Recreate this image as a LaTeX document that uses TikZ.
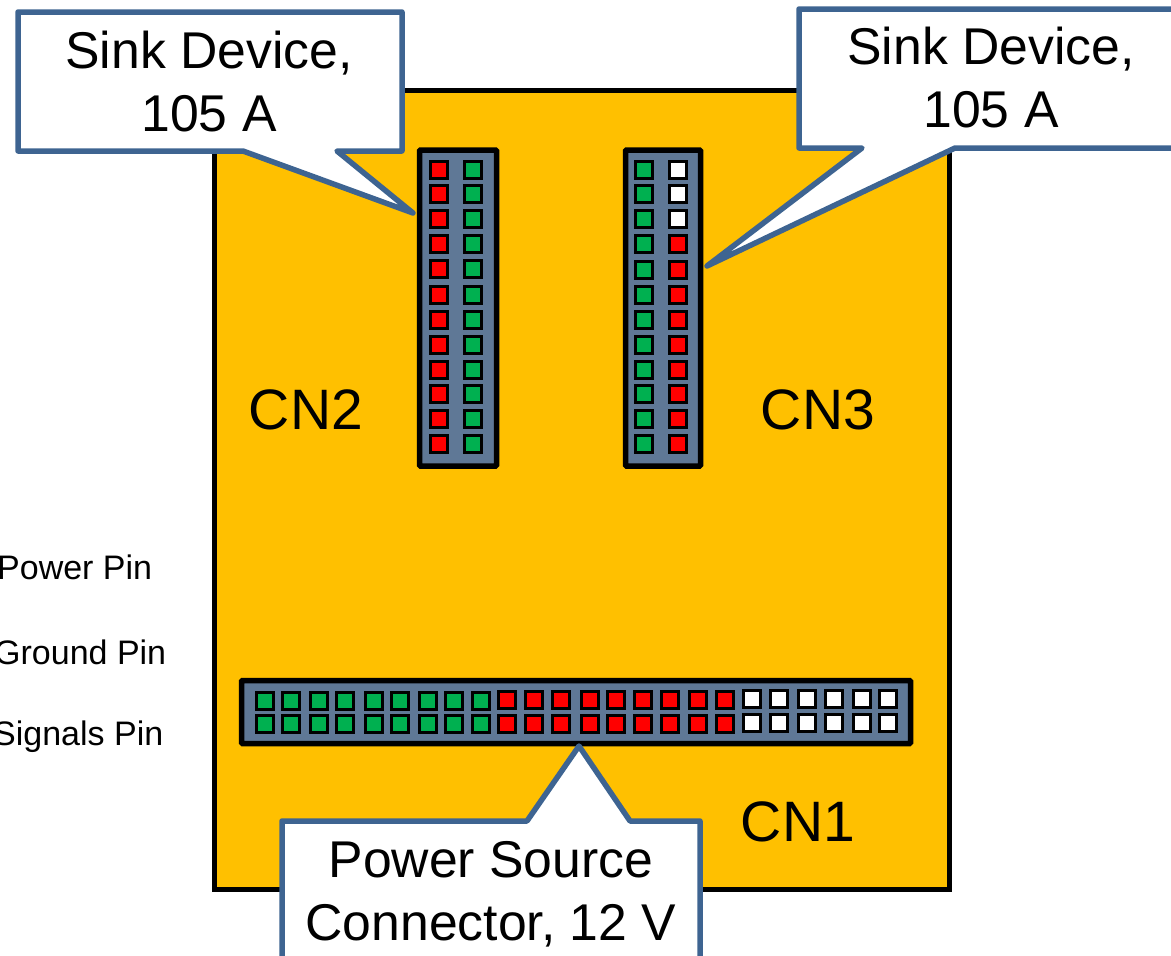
\documentclass[tikz,border=0pt]{standalone}
\usepackage{fontspec}
\setmainfont{Liberation Sans}
\usepackage{xcolor}
\usetikzlibrary{positioning}
\definecolor{boardamber}{RGB}{255,192,0}
\definecolor{headerslate}{RGB}{95,120,150}
\definecolor{calloutblue}{RGB}{62,100,145}
\definecolor{pingreen}{RGB}{0,176,80}

\begin{document}
\begin{tikzpicture}[
    x=1pt, y=-1pt,
    board/.style={rectangle, draw=black, fill=boardamber, line width=5pt, inner sep=0pt, minimum width=735pt, minimum height=799pt},
    header/.style={rectangle, draw=black, fill=headerslate, line width=5.5pt, inner sep=0pt, rounded corners=1pt},
    pinbox/.style={rectangle, draw=black, line width=2.8pt, inner sep=0pt, minimum size=17pt},
    callout/.style={draw=calloutblue, fill=white, line width=5.5pt, line join=round},
    calltext/.style={align=center, inner sep=0pt, font=\fontsize{51.7}{63}\selectfont},
    cnlabel/.style={inner sep=0pt, font=\fontsize{57}{60}\selectfont},
    legend/.style={anchor=base west, inner sep=0pt, font=\fontsize{34}{40}\selectfont}
]
\useasboundingbox (0,0) rectangle (1171,956);

% Board
\node[board] (pcb) at (581.5,489.5) {};

% Headers
\node[header, minimum width=77pt, minimum height=316pt] (cn2) at (458,308) {};
\node[header, minimum width=75pt, minimum height=316pt] (cn3) at (663,308) {};
\node[header, minimum width=669pt, minimum height=63pt] (cn1) at (576,712) {};

% CN2 pins
\foreach \y [count=\i] in {170,194,219,244,269,295,320,345,370,394,419,444} {
    \node[pinbox, fill=red] (cn2a\i) at (439,\y) {};
    \node[pinbox, fill=pingreen] (cn2b\i) at (473,\y) {};
}

% CN3 pins
\foreach \y [count=\i] in {170,194,219,244,270,295,320,345,370,394,419,444} {
    \node[pinbox, fill=pingreen] (cn3a\i) at (644,\y) {};
    \ifnum\i<4
        \node[pinbox, fill=white] (cn3b\i) at (678,\y) {};
    \else
        \node[pinbox, fill=red] (cn3b\i) at (678,\y) {};
    \fi
}

% CN1 pins
\foreach \x [count=\i] in {265,291,319,345,374,400,428,454,481} {
    \node[pinbox, fill=pingreen] (cn1a\i) at (\x,701) {};
    \node[pinbox, fill=pingreen] (cn1b\i) at (\x,724) {};
}
\foreach \x [count=\i] in {507,534,561,590,616,643,670,698,725} {
    \node[pinbox, fill=red] (cn1c\i) at (\x,700) {};
    \node[pinbox, fill=red] (cn1d\i) at (\x,724) {};
}
\foreach \x [count=\i] in {752,779,807,834,862,888} {
    \node[pinbox, fill=white] (cn1e\i) at (\x,699) {};
    \node[pinbox, fill=white] (cn1f\i) at (\x,723) {};
}

% Connector names
\node[cnlabel] (cn2name) at (306,410) {CN2};
\node[cnlabel] (cn3name) at (818,410) {CN3};
\node[cnlabel] (cn1name) at (798,822) {CN1};

% Pin legend
\node[legend] (powerpin) at (-3,579) {Power Pin};
\node[legend] (groundpin) at (-6,664) {Ground Pin};
\node[legend] (signalpin) at (-7,745) {Signals Pin};

% Callouts
\draw[callout] (18,12) -- (402,12) -- (402,151) -- (337,151) -- (413,213) -- (243,151) -- (18,151) -- cycle;
\node[calltext] (sinkleft) at (209,82) {Sink Device,\\105 A};

\draw[callout] (799,9) -- (1180,9) -- (1180,148) -- (955,148) -- (707,266) -- (862,148) -- (799,148) -- cycle;
\node[calltext] (sinkright) at (991,78) {Sink Device,\\105 A};

\draw[callout] (282,821) -- (527,821) -- (579,746) -- (630,821) -- (700,821) -- (700,970) -- (282,970) -- cycle;
\node[calltext] (source) at (491,894) {Power Source\\Connector, 12 V};

\end{tikzpicture}
\end{document}
